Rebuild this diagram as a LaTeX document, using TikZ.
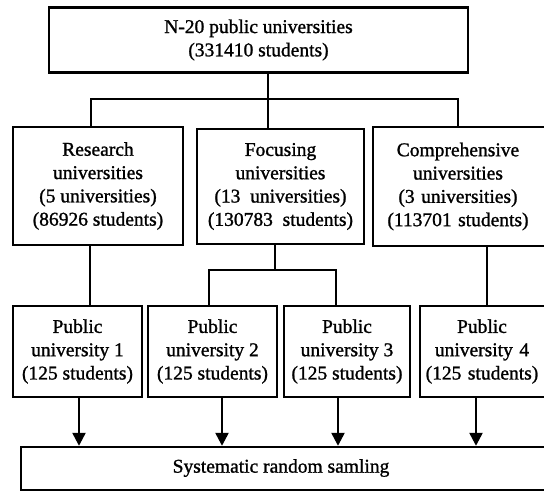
\documentclass[tikz,border=0pt]{standalone}
\usepackage{fontspec}
\setmainfont{Liberation Serif}[FakeBold=1.2]
\usetikzlibrary{arrows.meta}
\begin{document}
\begin{tikzpicture}[x=1pt,y=-1pt,
  box/.style={draw,line width=2.4pt,inner sep=0pt,align=center,
    font=\fontsize{19.5}{23.3}\selectfont},
  conn/.style={line width=2.4pt},
  arr/.style={line width=2.4pt,-{Triangle[width=13pt,length=13pt]}}]
\useasboundingbox (0,0) rectangle (544,491);
\clip (0,0) rectangle (544,491);
% boxes
\node[box,minimum width=419pt,minimum height=65pt] (top) at (258.5,40) {N-20 public universities\\(331410 students)};
\node[box,minimum width=170pt,minimum height=118pt] (res) at (98,186) {Research\\universities\\(5 universities)\\(86926 students)};
\node[box,minimum width=167pt,minimum height=115pt] (foc) at (280.5,186.5) {Focusing\\universities\\(13\ \ universities)\\(130783\ \ students)};
\node[box,minimum width=177pt,minimum height=119pt,text width=171pt] (com) at (461.5,186.5) {\hspace*{-7pt}Comprehensive\\\hspace*{-7pt}universities\\\hspace*{-7pt}(3 universities)\\\hspace*{-7pt}(113701 students)};
\node[box,minimum width=129pt,minimum height=91pt] (pu1) at (77.5,351.5) {Public\\university 1\\(125 students)};
\node[box,minimum width=129pt,minimum height=91pt] (pu2) at (212.5,351.5) {Public\\university 2\\(125 students)};
\node[box,minimum width=126pt,minimum height=91pt] (pu3) at (347,351.5) {Public\\university 3\\(125 students)};
\node[box,minimum width=130pt,minimum height=91pt,text width=124pt] (pu4) at (485,351.5) {\hspace*{-6pt}Public\\\hspace*{-6pt}university 4\\\hspace*{-6pt}(125 students)};
\node[box,minimum width=540pt,minimum height=43pt] (bot) at (291,468.5) {};
\node[font=\fontsize{19.5}{23.3}\selectfont] (bottxt) at (281,468) {Systematic random samling};
% junction coordinates
\coordinate (j0) at (268,99);
\coordinate (jl) at (91,99);
\coordinate (jr) at (458,99);
\coordinate (fj) at (275,270);
\coordinate (fl) at (209,270);
\coordinate (fr) at (336,270);
% top tree
\draw[conn] (top.south -| j0) -- (j0);
\draw[conn] (res.north -| jl) -- (jl) -- (jr) -- (com.north -| jr);
\draw[conn] (j0) -- (foc.north -| j0);
% second level
\draw[conn] (res.south -| 90,0) -- (pu1.north -| 90,0);
\draw[conn] (foc.south -| fj) -- (fj);
\draw[conn] (pu2.north -| fl) -- (fl) -- (fr) -- (pu3.north -| fr);
\draw[conn] (com.south -| 487,0) -- (pu4.north -| 487,0);
% arrows
\draw[arr] (pu1.south -| 79,0) -- (bot.north -| 79,0);
\draw[arr] (pu2.south -| 222,0) -- (bot.north -| 222,0);
\draw[arr] (pu3.south -| 338,0) -- (bot.north -| 338,0);
\draw[arr] (pu4.south -| 476,0) -- (bot.north -| 476,0);
\end{tikzpicture}
\end{document}
